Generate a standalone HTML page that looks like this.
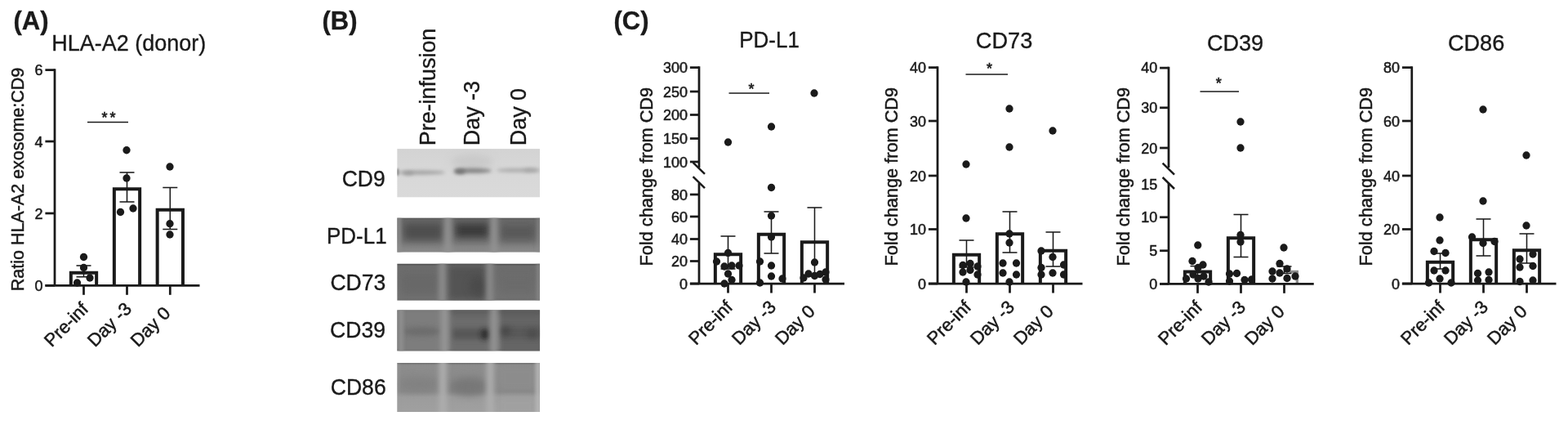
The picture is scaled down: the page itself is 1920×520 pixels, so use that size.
<!DOCTYPE html>
<html lang="en"><head><meta charset="utf-8"><title>Figure</title>
<style>html,body{margin:0;padding:0;background:#fff;}body{width:1920px;height:520px;overflow:hidden;}svg{display:block;}text{font-family:"Liberation Sans",Arial,Helvetica,sans-serif;fill:#1a1a1a;stroke:#1a1a1a;stroke-width:0.35px;}</style>
</head><body>
<svg width="1920" height="520" viewBox="0 0 1920 520">
<rect width="1920" height="520" fill="#fff"/>
<text transform="translate(16.5 35.9) scale(1 1.03)" font-size="31" font-weight="bold">(A)</text>
<text transform="translate(394.5 35.9) scale(1 1.03)" font-size="31" font-weight="bold">(B)</text>
<text transform="translate(751.5 35.9) scale(1 1.03)" font-size="31" font-weight="bold">(C)</text>
<defs>
<filter id="bl2" filterUnits="userSpaceOnUse" x="440" y="150" width="260" height="380"><feGaussianBlur stdDeviation="2"/></filter>
<filter id="bl3" filterUnits="userSpaceOnUse" x="440" y="150" width="260" height="380"><feGaussianBlur stdDeviation="3.2"/></filter>
<filter id="bl5" filterUnits="userSpaceOnUse" x="440" y="150" width="260" height="380"><feGaussianBlur stdDeviation="5"/></filter>
<filter id="bl1" filterUnits="userSpaceOnUse" x="440" y="150" width="260" height="380"><feGaussianBlur stdDeviation="1.2"/></filter>
<linearGradient id="gCD9" x1="0" y1="0" x2="0" y2="1"><stop offset="0" stop-color="#d3d3d3"/><stop offset="0.3" stop-color="#d6d6d6"/><stop offset="0.55" stop-color="#d8d8d8"/><stop offset="1" stop-color="#dadada"/></linearGradient>
<linearGradient id="gPDL1" x1="0" y1="0" x2="0" y2="1"><stop offset="0" stop-color="#545454"/><stop offset="0.06" stop-color="#6a6a6a"/><stop offset="0.68" stop-color="#767676"/><stop offset="0.85" stop-color="#848484"/><stop offset="1" stop-color="#888888"/></linearGradient>
<linearGradient id="gCD73" x1="0" y1="0" x2="0" y2="1"><stop offset="0" stop-color="#444444"/><stop offset="0.06" stop-color="#6c6c6c"/><stop offset="0.5" stop-color="#6e6e6e"/><stop offset="0.92" stop-color="#727272"/><stop offset="1" stop-color="#6a6a6a"/></linearGradient>
<linearGradient id="gCD39" x1="0" y1="0" x2="0" y2="1"><stop offset="0" stop-color="#686868"/><stop offset="0.1" stop-color="#7a7a7a"/><stop offset="0.5" stop-color="#787878"/><stop offset="0.93" stop-color="#7a7a7a"/><stop offset="1" stop-color="#585858"/></linearGradient>
<linearGradient id="gCD86" x1="0" y1="0" x2="0" y2="1"><stop offset="0" stop-color="#6c6c6c"/><stop offset="0.05" stop-color="#8c8c8c"/><stop offset="0.58" stop-color="#898989"/><stop offset="0.7" stop-color="#9c9c9c"/><stop offset="1" stop-color="#a0a0a0"/></linearGradient>
<clipPath id="cp0"><rect x="486.2" y="182.1" width="174.9" height="59.5"/></clipPath>
<clipPath id="cp1"><rect x="486.2" y="266.4" width="174.9" height="42.3"/></clipPath>
<clipPath id="cp2"><rect x="486.2" y="322.5" width="174.9" height="45.3"/></clipPath>
<clipPath id="cp3"><rect x="486.2" y="379.3" width="174.9" height="50.1"/></clipPath>
<clipPath id="cp4"><rect x="486.2" y="443.9" width="174.9" height="60.1"/></clipPath>
</defs>
<g clip-path="url(#cp0)">
<rect x="486.2" y="182.1" width="174.9" height="59.5" fill="url(#gCD9)"/>
<ellipse cx="578" cy="198" rx="26" ry="9" fill="#c6c6c6" opacity="0.8" filter="url(#bl5)"/>
<ellipse cx="516" cy="211.0" rx="29" ry="2.4" fill="#a2a2a2" opacity="1" filter="url(#bl2)"/>
<ellipse cx="487" cy="210.6" rx="1.6" ry="4.5" fill="#808080" opacity="0.9" filter="url(#bl1)"/>
<ellipse cx="500" cy="211.8" rx="7" ry="2.6" fill="#989898" opacity="0.8" filter="url(#bl2)"/>
<ellipse cx="579" cy="208.8" rx="23" ry="3.0" fill="#848484" opacity="1" filter="url(#bl2)"/>
<ellipse cx="563" cy="209.8" rx="7" ry="3.4" fill="#707070" opacity="0.9" filter="url(#bl2)"/>
<ellipse cx="635" cy="208.4" rx="27" ry="2.2" fill="#a8a8a8" opacity="1" filter="url(#bl2)"/>
<ellipse cx="650" cy="208.2" rx="9" ry="2.4" fill="#a0a0a0" opacity="0.7" filter="url(#bl2)"/>
</g>
<g clip-path="url(#cp1)">
<rect x="486.2" y="266.4" width="174.9" height="42.3" fill="url(#gPDL1)"/>
<rect x="494" y="273" width="48" height="21" fill="#4c4c4c" opacity="0.95" filter="url(#bl5)"/>
<rect x="557" y="273" width="42" height="18" fill="#383838" opacity="0.95" filter="url(#bl5)"/>
<rect x="612" y="274" width="44" height="20" fill="#585858" opacity="0.95" filter="url(#bl5)"/>
<rect x="486.0" y="258.4" width="5" height="58.30000000000001" fill="#8c8c8c" opacity="0.9" filter="url(#bl2)"/>
<rect x="544.25" y="258.4" width="8.5" height="58.30000000000001" fill="#929292" opacity="1" filter="url(#bl3)"/>
<rect x="600.75" y="258.4" width="8.5" height="58.30000000000001" fill="#929292" opacity="1" filter="url(#bl3)"/>
<rect x="657.8" y="258.4" width="4" height="58.30000000000001" fill="#8c8c8c" opacity="0.8" filter="url(#bl2)"/>
</g>
<g clip-path="url(#cp2)">
<rect x="486.2" y="322.5" width="174.9" height="45.3" fill="url(#gCD73)"/>
<rect x="548" y="324" width="49" height="44" fill="#525252" opacity="0.95" filter="url(#bl5)"/>
<ellipse cx="585" cy="350" rx="10" ry="12" fill="#444444" opacity="0.6" filter="url(#bl5)"/>
<rect x="492" y="335" width="46" height="27" fill="#666666" opacity="0.7" filter="url(#bl5)"/>
<rect x="612" y="338" width="42" height="22" fill="#6a6a6a" opacity="0.6" filter="url(#bl5)"/>
<rect x="537.5" y="314.5" width="8" height="61.30000000000001" fill="#8e8e8e" opacity="1" filter="url(#bl3)"/>
<rect x="595.8" y="314.5" width="8" height="61.30000000000001" fill="#8c8c8c" opacity="1" filter="url(#bl3)"/>
<rect x="657.6" y="314.5" width="4" height="61.30000000000001" fill="#929292" opacity="0.8" filter="url(#bl2)"/>
</g>
<g clip-path="url(#cp3)">
<rect x="486.2" y="379.3" width="174.9" height="50.1" fill="url(#gCD39)"/>
<rect x="486" y="374.3" width="57" height="60.099999999999966" fill="#7e7e7e" opacity="0.85" filter="url(#bl3)"/>
<rect x="550" y="374.3" width="52" height="60.099999999999966" fill="#6a6a6a" opacity="0.85" filter="url(#bl3)"/>
<rect x="611" y="374.3" width="54" height="60.099999999999966" fill="#646464" opacity="0.9" filter="url(#bl3)"/>
<rect x="552" y="375.3" width="110" height="10.0" fill="#505050" opacity="0.45" filter="url(#bl3)"/>
<ellipse cx="517" cy="405.5" rx="24" ry="5.5" fill="#6a6a6a" opacity="0.9" filter="url(#bl3)"/>
<rect x="554" y="402" width="46" height="13" fill="#525252" opacity="0.85" filter="url(#bl3)"/>
<ellipse cx="593.8" cy="409.0" rx="5" ry="6.5" fill="#222222" opacity="0.85" filter="url(#bl3)"/>
<rect x="613" y="400" width="49" height="14" fill="#545454" opacity="0.75" filter="url(#bl3)"/>
<ellipse cx="619" cy="405" rx="7" ry="6" fill="#444444" opacity="0.7" filter="url(#bl3)"/>
<ellipse cx="652" cy="408.5" rx="7" ry="6" fill="#484848" opacity="0.7" filter="url(#bl3)"/>
<rect x="488.5" y="371.3" width="5" height="66.09999999999997" fill="#949494" opacity="0.9" filter="url(#bl2)"/>
<rect x="539.75" y="371.3" width="9.5" height="66.09999999999997" fill="#969696" opacity="1" filter="url(#bl3)"/>
<rect x="600.25" y="371.3" width="9.5" height="66.09999999999997" fill="#929292" opacity="1" filter="url(#bl3)"/>
</g>
<g clip-path="url(#cp4)">
<rect x="486.2" y="443.9" width="174.9" height="60.1" fill="url(#gCD86)"/>
<ellipse cx="514" cy="470" rx="26" ry="9" fill="#808080" opacity="0.8" filter="url(#bl5)"/>
<ellipse cx="574" cy="473" rx="24" ry="11" fill="#767676" opacity="0.9" filter="url(#bl5)"/>
<rect x="611" y="447.9" width="45" height="28.100000000000023" fill="#8e8e8e" opacity="0.7" filter="url(#bl3)"/>
<rect x="611" y="486" width="45" height="22.0" fill="#a2a2a2" opacity="0.7" filter="url(#bl3)"/>
<rect x="537.8" y="435.9" width="9" height="76.10000000000002" fill="#aeaeae" opacity="1" filter="url(#bl3)"/>
<rect x="595.8" y="435.9" width="9" height="76.10000000000002" fill="#aeaeae" opacity="1" filter="url(#bl3)"/>
<rect x="655.8" y="435.9" width="6" height="76.10000000000002" fill="#b8b8b8" opacity="0.95" filter="url(#bl2)"/>
<rect x="485.95" y="435.9" width="2.5" height="76.10000000000002" fill="#a0a0a0" opacity="0.6" filter="url(#bl2)"/>
</g>
<text transform="translate(471.7 228) scale(1 1.05)" font-size="26.5" text-anchor="end">CD9</text>
<text transform="translate(473.6 298) scale(1 1.05)" font-size="26.0" text-anchor="end">PD-L1</text>
<text transform="translate(472.4 355) scale(1 1.05)" font-size="26.6" text-anchor="end">CD73</text>
<text transform="translate(472.0 412.5) scale(1 1.05)" font-size="26.6" text-anchor="end">CD39</text>
<text transform="translate(472.7 482.5) scale(1 1.05)" font-size="26.6" text-anchor="end">CD86</text>
<text transform="translate(532.7 178.2) rotate(-90) scale(1 1.05)" font-size="26.9">Pre-infusion</text>
<text transform="translate(586.7 178.2) rotate(-90) scale(1 1.05)" font-size="26.9">Day -3</text>
<text transform="translate(644.2 178.2) rotate(-90) scale(1 1.05)" font-size="26.9">Day 0</text>
<g>
<path d="M86.85 349.3V333.7H118.15V349.3" fill="#fff" stroke="#1a1a1a" stroke-width="4.0"/>
<path d="M139.85 349.3V231.2H171.15V349.3" fill="#fff" stroke="#1a1a1a" stroke-width="4.0"/>
<path d="M192.65 349.3V256.7H223.95V349.3" fill="#fff" stroke="#1a1a1a" stroke-width="4.0"/>
<line x1="67" y1="84.225" x2="67" y2="349.3" stroke="#1a1a1a" stroke-width="2.75" stroke-linecap="butt"/>
<line x1="55.4" y1="349.3" x2="244.5" y2="349.3" stroke="#1a1a1a" stroke-width="2.75" stroke-linecap="butt"/>
<line x1="55.4" y1="85.6" x2="67" y2="85.6" stroke="#1a1a1a" stroke-width="2.75" stroke-linecap="butt"/>
<text transform="translate(52.6 91.6) scale(1 1.05)" font-size="18.0" text-anchor="end" style="stroke-width:0.5px">6</text>
<line x1="55.4" y1="173" x2="67" y2="173" stroke="#1a1a1a" stroke-width="2.75" stroke-linecap="butt"/>
<text transform="translate(52.6 179.6) scale(1 1.05)" font-size="18.0" text-anchor="end" style="stroke-width:0.5px">4</text>
<line x1="55.4" y1="261" x2="67" y2="261" stroke="#1a1a1a" stroke-width="2.75" stroke-linecap="butt"/>
<text transform="translate(52.6 267.6) scale(1 1.05)" font-size="18.0" text-anchor="end" style="stroke-width:0.5px">2</text>
<line x1="55.4" y1="349.3" x2="67" y2="349.3" stroke="#1a1a1a" stroke-width="2.75" stroke-linecap="butt"/>
<text transform="translate(52.6 355.90000000000003) scale(1 1.05)" font-size="18.0" text-anchor="end" style="stroke-width:0.5px">0</text>
<line x1="102.5" y1="349.3" x2="102.5" y2="360.8" stroke="#1a1a1a" stroke-width="2.75" stroke-linecap="butt"/>
<line x1="155.5" y1="349.3" x2="155.5" y2="360.8" stroke="#1a1a1a" stroke-width="2.75" stroke-linecap="butt"/>
<line x1="208.3" y1="349.3" x2="208.3" y2="360.8" stroke="#1a1a1a" stroke-width="2.75" stroke-linecap="butt"/>
<line x1="102.5" y1="325" x2="102.5" y2="338.75" stroke="#1a1a1a" stroke-width="1.55" stroke-linecap="butt"/>
<line x1="93.5" y1="325" x2="111.5" y2="325" stroke="#1a1a1a" stroke-width="1.55" stroke-linecap="butt"/>
<line x1="93.5" y1="338.75" x2="111.5" y2="338.75" stroke="#1a1a1a" stroke-width="1.55" stroke-linecap="butt"/>
<line x1="155.5" y1="211" x2="155.5" y2="247" stroke="#1a1a1a" stroke-width="1.55" stroke-linecap="butt"/>
<line x1="146.5" y1="211" x2="164.5" y2="211" stroke="#1a1a1a" stroke-width="1.55" stroke-linecap="butt"/>
<line x1="146.5" y1="247" x2="164.5" y2="247" stroke="#1a1a1a" stroke-width="1.55" stroke-linecap="butt"/>
<line x1="208.3" y1="229.5" x2="208.3" y2="280.5" stroke="#1a1a1a" stroke-width="1.55" stroke-linecap="butt"/>
<line x1="199.3" y1="229.5" x2="217.3" y2="229.5" stroke="#1a1a1a" stroke-width="1.55" stroke-linecap="butt"/>
<line x1="199.3" y1="280.5" x2="217.3" y2="280.5" stroke="#1a1a1a" stroke-width="1.55" stroke-linecap="butt"/>
<circle cx="102.5" cy="314.5" r="4.65" fill="#1a1a1a"/>
<circle cx="102.5" cy="327.5" r="4.65" fill="#1a1a1a"/>
<circle cx="110" cy="340" r="4.65" fill="#1a1a1a"/>
<circle cx="94.5" cy="346" r="4.65" fill="#1a1a1a"/>
<circle cx="155" cy="183.75" r="4.65" fill="#1a1a1a"/>
<circle cx="155" cy="218" r="4.65" fill="#1a1a1a"/>
<circle cx="147.5" cy="259.5" r="4.65" fill="#1a1a1a"/>
<circle cx="163" cy="255" r="4.65" fill="#1a1a1a"/>
<circle cx="208" cy="204" r="4.65" fill="#1a1a1a"/>
<circle cx="208" cy="273.75" r="4.65" fill="#1a1a1a"/>
<circle cx="208" cy="287" r="4.65" fill="#1a1a1a"/>
<line x1="107" y1="149.5" x2="157" y2="149.5" stroke="#1a1a1a" stroke-width="1.5" stroke-linecap="butt"/>
<text transform="translate(134.6 150.0)" font-size="18" text-anchor="middle" letter-spacing="3.2" style="stroke-width:0.6px">**</text>
<text transform="translate(63.2 425.6) rotate(-45)" font-size="22.2" style="stroke-width:0.5px">Pre-inf</text>
<text transform="translate(116.2 425.6) rotate(-45)" font-size="22.2" style="stroke-width:0.5px">Day -3</text>
<text transform="translate(169.0 425.6) rotate(-45)" font-size="22.2" style="stroke-width:0.5px">Day 0</text>
<text transform="translate(63.2 62) scale(1 1.05)" font-size="27.0">HLA-A2 (donor)</text>
<text transform="translate(29.2 219.5) rotate(-90) scale(1 1.04)" font-size="21.5" text-anchor="middle" style="stroke-width:0.5px">Ratio HLA-A2 exosome:CD9</text>
</g>
<g>
<path d="M875.85 347V311.2H907.15V347" fill="#fff" stroke="#1a1a1a" stroke-width="4.0"/>
<path d="M928.85 347V286.7H960.15V347" fill="#fff" stroke="#1a1a1a" stroke-width="4.0"/>
<path d="M981.85 347V296.2H1013.15V347" fill="#fff" stroke="#1a1a1a" stroke-width="4.0"/>
<line x1="856" y1="81.225" x2="856" y2="205" stroke="#1a1a1a" stroke-width="2.75" stroke-linecap="butt"/>
<line x1="856" y1="224" x2="856" y2="347" stroke="#1a1a1a" stroke-width="2.75" stroke-linecap="butt"/>
<line x1="848.6" y1="198.8" x2="863" y2="212.8" stroke="#1a1a1a" stroke-width="2.5" stroke-linecap="butt"/>
<line x1="848.6" y1="216.1" x2="863" y2="230.1" stroke="#1a1a1a" stroke-width="2.5" stroke-linecap="butt"/>
<line x1="844.9" y1="347" x2="1034" y2="347" stroke="#1a1a1a" stroke-width="2.75" stroke-linecap="butt"/>
<line x1="844.9" y1="82.6" x2="856" y2="82.6" stroke="#1a1a1a" stroke-width="2.75" stroke-linecap="butt"/>
<text transform="translate(842.1 88.6) scale(1 1.05)" font-size="18.0" text-anchor="end" style="stroke-width:0.5px">300</text>
<line x1="844.9" y1="112" x2="856" y2="112" stroke="#1a1a1a" stroke-width="2.75" stroke-linecap="butt"/>
<text transform="translate(842.1 118.6) scale(1 1.05)" font-size="18.0" text-anchor="end" style="stroke-width:0.5px">250</text>
<line x1="844.9" y1="140.5" x2="856" y2="140.5" stroke="#1a1a1a" stroke-width="2.75" stroke-linecap="butt"/>
<text transform="translate(842.1 147.1) scale(1 1.05)" font-size="18.0" text-anchor="end" style="stroke-width:0.5px">200</text>
<line x1="844.9" y1="169.5" x2="856" y2="169.5" stroke="#1a1a1a" stroke-width="2.75" stroke-linecap="butt"/>
<text transform="translate(842.1 176.1) scale(1 1.05)" font-size="18.0" text-anchor="end" style="stroke-width:0.5px">150</text>
<line x1="844.9" y1="198" x2="856" y2="198" stroke="#1a1a1a" stroke-width="2.75" stroke-linecap="butt"/>
<text transform="translate(842.1 204.6) scale(1 1.05)" font-size="18.0" text-anchor="end" style="stroke-width:0.5px">100</text>
<line x1="844.9" y1="238" x2="856" y2="238" stroke="#1a1a1a" stroke-width="2.75" stroke-linecap="butt"/>
<text transform="translate(842.1 244.6) scale(1 1.05)" font-size="18.0" text-anchor="end" style="stroke-width:0.5px">80</text>
<line x1="844.9" y1="265" x2="856" y2="265" stroke="#1a1a1a" stroke-width="2.75" stroke-linecap="butt"/>
<text transform="translate(842.1 271.6) scale(1 1.05)" font-size="18.0" text-anchor="end" style="stroke-width:0.5px">60</text>
<line x1="844.9" y1="292.5" x2="856" y2="292.5" stroke="#1a1a1a" stroke-width="2.75" stroke-linecap="butt"/>
<text transform="translate(842.1 299.1) scale(1 1.05)" font-size="18.0" text-anchor="end" style="stroke-width:0.5px">40</text>
<line x1="844.9" y1="319.5" x2="856" y2="319.5" stroke="#1a1a1a" stroke-width="2.75" stroke-linecap="butt"/>
<text transform="translate(842.1 326.1) scale(1 1.05)" font-size="18.0" text-anchor="end" style="stroke-width:0.5px">20</text>
<line x1="844.9" y1="347" x2="856" y2="347" stroke="#1a1a1a" stroke-width="2.75" stroke-linecap="butt"/>
<text transform="translate(842.1 353.6) scale(1 1.05)" font-size="18.0" text-anchor="end" style="stroke-width:0.5px">0</text>
<line x1="891.5" y1="347" x2="891.5" y2="358.5" stroke="#1a1a1a" stroke-width="2.75" stroke-linecap="butt"/>
<line x1="944.5" y1="347" x2="944.5" y2="358.5" stroke="#1a1a1a" stroke-width="2.75" stroke-linecap="butt"/>
<line x1="997.5" y1="347" x2="997.5" y2="358.5" stroke="#1a1a1a" stroke-width="2.75" stroke-linecap="butt"/>
<line x1="891.5" y1="289" x2="891.5" y2="329" stroke="#1a1a1a" stroke-width="1.55" stroke-linecap="butt"/>
<line x1="882.5" y1="289" x2="900.5" y2="289" stroke="#1a1a1a" stroke-width="1.55" stroke-linecap="butt"/>
<line x1="882.5" y1="329" x2="900.5" y2="329" stroke="#1a1a1a" stroke-width="1.55" stroke-linecap="butt"/>
<line x1="944.5" y1="259" x2="944.5" y2="310" stroke="#1a1a1a" stroke-width="1.55" stroke-linecap="butt"/>
<line x1="935.5" y1="259" x2="953.5" y2="259" stroke="#1a1a1a" stroke-width="1.55" stroke-linecap="butt"/>
<line x1="935.5" y1="310" x2="953.5" y2="310" stroke="#1a1a1a" stroke-width="1.55" stroke-linecap="butt"/>
<line x1="997.5" y1="254" x2="997.5" y2="336" stroke="#1a1a1a" stroke-width="1.55" stroke-linecap="butt"/>
<line x1="988.5" y1="254" x2="1006.5" y2="254" stroke="#1a1a1a" stroke-width="1.55" stroke-linecap="butt"/>
<line x1="988.5" y1="336" x2="1006.5" y2="336" stroke="#1a1a1a" stroke-width="1.55" stroke-linecap="butt"/>
<circle cx="891.5" cy="174" r="4.65" fill="#1a1a1a"/>
<circle cx="944.5" cy="155" r="4.65" fill="#1a1a1a"/>
<circle cx="997" cy="114" r="4.65" fill="#1a1a1a"/>
<circle cx="944.5" cy="229.5" r="4.65" fill="#1a1a1a"/>
<circle cx="891.5" cy="309.5" r="4.65" fill="#1a1a1a"/>
<circle cx="877.5" cy="320" r="4.65" fill="#1a1a1a"/>
<circle cx="887" cy="326" r="4.65" fill="#1a1a1a"/>
<circle cx="896" cy="325" r="4.65" fill="#1a1a1a"/>
<circle cx="905" cy="325" r="4.65" fill="#1a1a1a"/>
<circle cx="891.5" cy="335" r="4.65" fill="#1a1a1a"/>
<circle cx="896" cy="342.5" r="4.65" fill="#1a1a1a"/>
<circle cx="887" cy="347" r="4.65" fill="#1a1a1a"/>
<circle cx="944.5" cy="264" r="4.65" fill="#1a1a1a"/>
<circle cx="944.5" cy="290" r="4.65" fill="#1a1a1a"/>
<circle cx="930.5" cy="320" r="4.65" fill="#1a1a1a"/>
<circle cx="944.5" cy="325" r="4.65" fill="#1a1a1a"/>
<circle cx="944.5" cy="338" r="4.65" fill="#1a1a1a"/>
<circle cx="958" cy="341" r="4.65" fill="#1a1a1a"/>
<circle cx="930.5" cy="346" r="4.65" fill="#1a1a1a"/>
<circle cx="997.5" cy="321" r="4.65" fill="#1a1a1a"/>
<circle cx="1011" cy="333" r="4.65" fill="#1a1a1a"/>
<circle cx="990" cy="335" r="4.65" fill="#1a1a1a"/>
<circle cx="1004" cy="335.5" r="4.65" fill="#1a1a1a"/>
<circle cx="997.5" cy="337.5" r="4.65" fill="#1a1a1a"/>
<circle cx="984" cy="340" r="4.65" fill="#1a1a1a"/>
<circle cx="1011" cy="342" r="4.65" fill="#1a1a1a"/>
<line x1="892.5" y1="114" x2="942" y2="114" stroke="#1a1a1a" stroke-width="1.5" stroke-linecap="butt"/>
<text transform="translate(921.6500000000001 114.5)" font-size="18" text-anchor="middle" letter-spacing="3.2" style="stroke-width:0.6px">*</text>
<text transform="translate(852.2 423.3) rotate(-45)" font-size="22.2" style="stroke-width:0.5px">Pre-inf</text>
<text transform="translate(905.2 423.3) rotate(-45)" font-size="22.2" style="stroke-width:0.5px">Day -3</text>
<text transform="translate(958.2 423.3) rotate(-45)" font-size="22.2" style="stroke-width:0.5px">Day 0</text>
<text transform="translate(942 58) scale(1 1.05)" font-size="26" text-anchor="middle">PD-L1</text>
<text transform="translate(798.7 216.2) rotate(-90) scale(1 1.04)" font-size="21.75" text-anchor="middle" style="stroke-width:0.5px">Fold change from CD9</text>
</g>
<g>
<path d="M1167.85 347V311.7H1199.15V347" fill="#fff" stroke="#1a1a1a" stroke-width="4.0"/>
<path d="M1220.85 347V286.2H1252.15V347" fill="#fff" stroke="#1a1a1a" stroke-width="4.0"/>
<path d="M1273.85 347V306.7H1305.15V347" fill="#fff" stroke="#1a1a1a" stroke-width="4.0"/>
<line x1="1148" y1="81.225" x2="1148" y2="347" stroke="#1a1a1a" stroke-width="2.75" stroke-linecap="butt"/>
<line x1="1136.9" y1="347" x2="1325.5" y2="347" stroke="#1a1a1a" stroke-width="2.75" stroke-linecap="butt"/>
<line x1="1136.9" y1="82.6" x2="1148" y2="82.6" stroke="#1a1a1a" stroke-width="2.75" stroke-linecap="butt"/>
<text transform="translate(1134.1 88.6) scale(1 1.05)" font-size="18.0" text-anchor="end" style="stroke-width:0.5px">40</text>
<line x1="1136.9" y1="148" x2="1148" y2="148" stroke="#1a1a1a" stroke-width="2.75" stroke-linecap="butt"/>
<text transform="translate(1134.1 154.6) scale(1 1.05)" font-size="18.0" text-anchor="end" style="stroke-width:0.5px">30</text>
<line x1="1136.9" y1="215" x2="1148" y2="215" stroke="#1a1a1a" stroke-width="2.75" stroke-linecap="butt"/>
<text transform="translate(1134.1 221.6) scale(1 1.05)" font-size="18.0" text-anchor="end" style="stroke-width:0.5px">20</text>
<line x1="1136.9" y1="280.5" x2="1148" y2="280.5" stroke="#1a1a1a" stroke-width="2.75" stroke-linecap="butt"/>
<text transform="translate(1134.1 287.1) scale(1 1.05)" font-size="18.0" text-anchor="end" style="stroke-width:0.5px">10</text>
<line x1="1136.9" y1="347" x2="1148" y2="347" stroke="#1a1a1a" stroke-width="2.75" stroke-linecap="butt"/>
<text transform="translate(1134.1 353.6) scale(1 1.05)" font-size="18.0" text-anchor="end" style="stroke-width:0.5px">0</text>
<line x1="1183.5" y1="347" x2="1183.5" y2="358.5" stroke="#1a1a1a" stroke-width="2.75" stroke-linecap="butt"/>
<line x1="1236.5" y1="347" x2="1236.5" y2="358.5" stroke="#1a1a1a" stroke-width="2.75" stroke-linecap="butt"/>
<line x1="1289.5" y1="347" x2="1289.5" y2="358.5" stroke="#1a1a1a" stroke-width="2.75" stroke-linecap="butt"/>
<line x1="1183.5" y1="294" x2="1183.5" y2="327" stroke="#1a1a1a" stroke-width="1.55" stroke-linecap="butt"/>
<line x1="1174.5" y1="294" x2="1192.5" y2="294" stroke="#1a1a1a" stroke-width="1.55" stroke-linecap="butt"/>
<line x1="1174.5" y1="327" x2="1192.5" y2="327" stroke="#1a1a1a" stroke-width="1.55" stroke-linecap="butt"/>
<line x1="1236.5" y1="259" x2="1236.5" y2="309" stroke="#1a1a1a" stroke-width="1.55" stroke-linecap="butt"/>
<line x1="1227.5" y1="259" x2="1245.5" y2="259" stroke="#1a1a1a" stroke-width="1.55" stroke-linecap="butt"/>
<line x1="1227.5" y1="309" x2="1245.5" y2="309" stroke="#1a1a1a" stroke-width="1.55" stroke-linecap="butt"/>
<line x1="1289.5" y1="284" x2="1289.5" y2="326" stroke="#1a1a1a" stroke-width="1.55" stroke-linecap="butt"/>
<line x1="1280.5" y1="284" x2="1298.5" y2="284" stroke="#1a1a1a" stroke-width="1.55" stroke-linecap="butt"/>
<line x1="1280.5" y1="326" x2="1298.5" y2="326" stroke="#1a1a1a" stroke-width="1.55" stroke-linecap="butt"/>
<circle cx="1183" cy="201" r="4.65" fill="#1a1a1a"/>
<circle cx="1183" cy="267" r="4.65" fill="#1a1a1a"/>
<circle cx="1179" cy="324.5" r="4.65" fill="#1a1a1a"/>
<circle cx="1188" cy="322.5" r="4.65" fill="#1a1a1a"/>
<circle cx="1197" cy="326" r="4.65" fill="#1a1a1a"/>
<circle cx="1188" cy="330.5" r="4.65" fill="#1a1a1a"/>
<circle cx="1179" cy="333" r="4.65" fill="#1a1a1a"/>
<circle cx="1197" cy="336" r="4.65" fill="#1a1a1a"/>
<circle cx="1183" cy="345" r="4.65" fill="#1a1a1a"/>
<circle cx="1236" cy="133" r="4.65" fill="#1a1a1a"/>
<circle cx="1236" cy="180" r="4.65" fill="#1a1a1a"/>
<circle cx="1236" cy="286" r="4.65" fill="#1a1a1a"/>
<circle cx="1236" cy="297" r="4.65" fill="#1a1a1a"/>
<circle cx="1228" cy="322" r="4.65" fill="#1a1a1a"/>
<circle cx="1244.5" cy="322" r="4.65" fill="#1a1a1a"/>
<circle cx="1228" cy="334" r="4.65" fill="#1a1a1a"/>
<circle cx="1244.5" cy="336" r="4.65" fill="#1a1a1a"/>
<circle cx="1236" cy="345" r="4.65" fill="#1a1a1a"/>
<circle cx="1289" cy="160" r="4.65" fill="#1a1a1a"/>
<circle cx="1275" cy="307" r="4.65" fill="#1a1a1a"/>
<circle cx="1289" cy="314.5" r="4.65" fill="#1a1a1a"/>
<circle cx="1302.5" cy="324" r="4.65" fill="#1a1a1a"/>
<circle cx="1275" cy="327.5" r="4.65" fill="#1a1a1a"/>
<circle cx="1289" cy="334" r="4.65" fill="#1a1a1a"/>
<circle cx="1275" cy="336" r="4.65" fill="#1a1a1a"/>
<circle cx="1302.5" cy="336" r="4.65" fill="#1a1a1a"/>
<line x1="1182.5" y1="91" x2="1234" y2="91" stroke="#1a1a1a" stroke-width="1.5" stroke-linecap="butt"/>
<text transform="translate(1213.2 89.75)" font-size="18" text-anchor="middle" letter-spacing="3.2" style="stroke-width:0.6px">*</text>
<text transform="translate(1144.2 423.3) rotate(-45)" font-size="22.2" style="stroke-width:0.5px">Pre-inf</text>
<text transform="translate(1197.2 423.3) rotate(-45)" font-size="22.2" style="stroke-width:0.5px">Day -3</text>
<text transform="translate(1250.2 423.3) rotate(-45)" font-size="22.2" style="stroke-width:0.5px">Day 0</text>
<text transform="translate(1229.6 59.0) scale(1 1.05)" font-size="27.2" text-anchor="middle">CD73</text>
<text transform="translate(1099.2 216.2) rotate(-90) scale(1 1.04)" font-size="21.75" text-anchor="middle" style="stroke-width:0.5px">Fold change from CD9</text>
</g>
<g>
<path d="M1450.85 347.3V332.45H1482.15V347.3" fill="#fff" stroke="#1a1a1a" stroke-width="4.0"/>
<path d="M1503.85 347.3V291.2H1535.15V347.3" fill="#fff" stroke="#1a1a1a" stroke-width="4.0"/>
<path d="M1579.0 332.5H1588.3V347.3" fill="none" stroke="#8c8c8c" stroke-width="3.4"/>
<line x1="1431" y1="81.725" x2="1431" y2="205" stroke="#1a1a1a" stroke-width="2.75" stroke-linecap="butt"/>
<line x1="1431" y1="224" x2="1431" y2="347.3" stroke="#1a1a1a" stroke-width="2.75" stroke-linecap="butt"/>
<line x1="1423.6" y1="199.7" x2="1438" y2="213.7" stroke="#1a1a1a" stroke-width="2.5" stroke-linecap="butt"/>
<line x1="1423.6" y1="217" x2="1438" y2="231" stroke="#1a1a1a" stroke-width="2.5" stroke-linecap="butt"/>
<line x1="1420.1000000000001" y1="347.3" x2="1608.75" y2="347.3" stroke="#1a1a1a" stroke-width="2.75" stroke-linecap="butt"/>
<line x1="1420.1000000000001" y1="83.1" x2="1431" y2="83.1" stroke="#1a1a1a" stroke-width="2.75" stroke-linecap="butt"/>
<text transform="translate(1417.3 89.1) scale(1 1.05)" font-size="18.0" text-anchor="end" style="stroke-width:0.5px">40</text>
<line x1="1420.1000000000001" y1="131.8" x2="1431" y2="131.8" stroke="#1a1a1a" stroke-width="2.75" stroke-linecap="butt"/>
<text transform="translate(1417.3 138.4) scale(1 1.05)" font-size="18.0" text-anchor="end" style="stroke-width:0.5px">30</text>
<line x1="1420.1000000000001" y1="181" x2="1431" y2="181" stroke="#1a1a1a" stroke-width="2.75" stroke-linecap="butt"/>
<text transform="translate(1417.3 187.6) scale(1 1.05)" font-size="18.0" text-anchor="end" style="stroke-width:0.5px">20</text>
<text transform="translate(1417.3 231.6) scale(1 1.05)" font-size="18.0" text-anchor="end" style="stroke-width:0.5px">15</text>
<line x1="1420.1000000000001" y1="265.75" x2="1431" y2="265.75" stroke="#1a1a1a" stroke-width="2.75" stroke-linecap="butt"/>
<text transform="translate(1417.3 272.35) scale(1 1.05)" font-size="18.0" text-anchor="end" style="stroke-width:0.5px">10</text>
<line x1="1420.1000000000001" y1="306.75" x2="1431" y2="306.75" stroke="#1a1a1a" stroke-width="2.75" stroke-linecap="butt"/>
<text transform="translate(1417.3 313.35) scale(1 1.05)" font-size="18.0" text-anchor="end" style="stroke-width:0.5px">5</text>
<line x1="1420.1000000000001" y1="347.3" x2="1431" y2="347.3" stroke="#1a1a1a" stroke-width="2.75" stroke-linecap="butt"/>
<text transform="translate(1417.3 353.90000000000003) scale(1 1.05)" font-size="18.0" text-anchor="end" style="stroke-width:0.5px">0</text>
<line x1="1466.5" y1="347.3" x2="1466.5" y2="358.8" stroke="#1a1a1a" stroke-width="2.75" stroke-linecap="butt"/>
<line x1="1519.5" y1="347.3" x2="1519.5" y2="358.8" stroke="#1a1a1a" stroke-width="2.75" stroke-linecap="butt"/>
<line x1="1572.5" y1="347.3" x2="1572.5" y2="358.8" stroke="#1a1a1a" stroke-width="2.75" stroke-linecap="butt"/>
<line x1="1466.5" y1="325.6" x2="1466.5" y2="337" stroke="#1a1a1a" stroke-width="1.55" stroke-linecap="butt"/>
<line x1="1457.5" y1="325.6" x2="1475.5" y2="325.6" stroke="#1a1a1a" stroke-width="1.55" stroke-linecap="butt"/>
<line x1="1457.5" y1="337" x2="1475.5" y2="337" stroke="#1a1a1a" stroke-width="1.55" stroke-linecap="butt"/>
<line x1="1519.5" y1="262.5" x2="1519.5" y2="314.5" stroke="#1a1a1a" stroke-width="1.55" stroke-linecap="butt"/>
<line x1="1510.5" y1="262.5" x2="1528.5" y2="262.5" stroke="#1a1a1a" stroke-width="1.55" stroke-linecap="butt"/>
<line x1="1510.5" y1="314.5" x2="1528.5" y2="314.5" stroke="#1a1a1a" stroke-width="1.55" stroke-linecap="butt"/>
<line x1="1572.5" y1="326.0" x2="1572.5" y2="334.5" stroke="#1a1a1a" stroke-width="1.55" stroke-linecap="butt"/>
<line x1="1563.5" y1="326.0" x2="1581.5" y2="326.0" stroke="#1a1a1a" stroke-width="1.55" stroke-linecap="butt"/>
<line x1="1563.5" y1="334.5" x2="1581.5" y2="334.5" stroke="#1a1a1a" stroke-width="1.55" stroke-linecap="butt"/>
<circle cx="1466.75" cy="300" r="4.65" fill="#1a1a1a"/>
<circle cx="1460" cy="319.5" r="4.65" fill="#1a1a1a"/>
<circle cx="1473" cy="324" r="4.65" fill="#1a1a1a"/>
<circle cx="1467" cy="327.5" r="4.65" fill="#1a1a1a"/>
<circle cx="1461" cy="336" r="4.65" fill="#1a1a1a"/>
<circle cx="1474" cy="338" r="4.65" fill="#1a1a1a"/>
<circle cx="1452.5" cy="341" r="4.65" fill="#1a1a1a"/>
<circle cx="1467" cy="341" r="4.65" fill="#1a1a1a"/>
<circle cx="1480" cy="345" r="4.65" fill="#1a1a1a"/>
<circle cx="1519" cy="149" r="4.65" fill="#1a1a1a"/>
<circle cx="1519" cy="181" r="4.65" fill="#1a1a1a"/>
<circle cx="1519" cy="287.5" r="4.65" fill="#1a1a1a"/>
<circle cx="1519" cy="296" r="4.65" fill="#1a1a1a"/>
<circle cx="1505.5" cy="335" r="4.65" fill="#1a1a1a"/>
<circle cx="1514.5" cy="334.5" r="4.65" fill="#1a1a1a"/>
<circle cx="1505.5" cy="344" r="4.65" fill="#1a1a1a"/>
<circle cx="1524" cy="342.5" r="4.65" fill="#1a1a1a"/>
<circle cx="1532.5" cy="342" r="4.65" fill="#1a1a1a"/>
<circle cx="1572" cy="303" r="4.65" fill="#1a1a1a"/>
<circle cx="1567" cy="322.5" r="4.65" fill="#1a1a1a"/>
<circle cx="1576" cy="329" r="4.65" fill="#1a1a1a"/>
<circle cx="1558" cy="332" r="4.65" fill="#1a1a1a"/>
<circle cx="1567" cy="334" r="4.65" fill="#1a1a1a"/>
<circle cx="1586" cy="338" r="4.65" fill="#1a1a1a"/>
<circle cx="1558" cy="341" r="4.65" fill="#1a1a1a"/>
<circle cx="1576" cy="340.5" r="4.65" fill="#1a1a1a"/>
<line x1="1469.5" y1="112" x2="1517" y2="112" stroke="#1a1a1a" stroke-width="1.5" stroke-linecap="butt"/>
<text transform="translate(1493.75 107.5)" font-size="18" text-anchor="middle" letter-spacing="3.2" style="stroke-width:0.6px">*</text>
<text transform="translate(1427.2 423.6) rotate(-45)" font-size="22.2" style="stroke-width:0.5px">Pre-inf</text>
<text transform="translate(1480.2 423.6) rotate(-45)" font-size="22.2" style="stroke-width:0.5px">Day -3</text>
<text transform="translate(1533.2 423.6) rotate(-45)" font-size="22.2" style="stroke-width:0.5px">Day 0</text>
<text transform="translate(1512.5 62.0) scale(1 1.05)" font-size="27.1" text-anchor="middle">CD39</text>
<text transform="translate(1383.2 216.2) rotate(-90) scale(1 1.04)" font-size="21.75" text-anchor="middle" style="stroke-width:0.5px">Fold change from CD9</text>
</g>
<g>
<path d="M1747.85 347V320.7H1779.15V347" fill="#fff" stroke="#1a1a1a" stroke-width="4.0"/>
<path d="M1800.85 347V293.2H1832.15V347" fill="#fff" stroke="#1a1a1a" stroke-width="4.0"/>
<path d="M1853.85 347V306.2H1885.15V347" fill="#fff" stroke="#1a1a1a" stroke-width="4.0"/>
<line x1="1728.75" y1="81.225" x2="1728.75" y2="347" stroke="#1a1a1a" stroke-width="2.75" stroke-linecap="butt"/>
<line x1="1716.9" y1="347" x2="1905.5" y2="347" stroke="#1a1a1a" stroke-width="2.75" stroke-linecap="butt"/>
<line x1="1716.9" y1="82.6" x2="1728.75" y2="82.6" stroke="#1a1a1a" stroke-width="2.75" stroke-linecap="butt"/>
<text transform="translate(1714.1 88.6) scale(1 1.05)" font-size="18.0" text-anchor="end" style="stroke-width:0.5px">80</text>
<line x1="1716.9" y1="148" x2="1728.75" y2="148" stroke="#1a1a1a" stroke-width="2.75" stroke-linecap="butt"/>
<text transform="translate(1714.1 154.6) scale(1 1.05)" font-size="18.0" text-anchor="end" style="stroke-width:0.5px">60</text>
<line x1="1716.9" y1="215" x2="1728.75" y2="215" stroke="#1a1a1a" stroke-width="2.75" stroke-linecap="butt"/>
<text transform="translate(1714.1 221.6) scale(1 1.05)" font-size="18.0" text-anchor="end" style="stroke-width:0.5px">40</text>
<line x1="1716.9" y1="280.5" x2="1728.75" y2="280.5" stroke="#1a1a1a" stroke-width="2.75" stroke-linecap="butt"/>
<text transform="translate(1714.1 287.1) scale(1 1.05)" font-size="18.0" text-anchor="end" style="stroke-width:0.5px">20</text>
<line x1="1716.9" y1="347" x2="1728.75" y2="347" stroke="#1a1a1a" stroke-width="2.75" stroke-linecap="butt"/>
<text transform="translate(1714.1 353.6) scale(1 1.05)" font-size="18.0" text-anchor="end" style="stroke-width:0.5px">0</text>
<line x1="1763.5" y1="347" x2="1763.5" y2="358.5" stroke="#1a1a1a" stroke-width="2.75" stroke-linecap="butt"/>
<line x1="1816.5" y1="347" x2="1816.5" y2="358.5" stroke="#1a1a1a" stroke-width="2.75" stroke-linecap="butt"/>
<line x1="1869.5" y1="347" x2="1869.5" y2="358.5" stroke="#1a1a1a" stroke-width="2.75" stroke-linecap="butt"/>
<line x1="1763.5" y1="310" x2="1763.5" y2="329" stroke="#1a1a1a" stroke-width="1.55" stroke-linecap="butt"/>
<line x1="1754.5" y1="310" x2="1772.5" y2="310" stroke="#1a1a1a" stroke-width="1.55" stroke-linecap="butt"/>
<line x1="1754.5" y1="329" x2="1772.5" y2="329" stroke="#1a1a1a" stroke-width="1.55" stroke-linecap="butt"/>
<line x1="1816.5" y1="268" x2="1816.5" y2="313" stroke="#1a1a1a" stroke-width="1.55" stroke-linecap="butt"/>
<line x1="1807.5" y1="268" x2="1825.5" y2="268" stroke="#1a1a1a" stroke-width="1.55" stroke-linecap="butt"/>
<line x1="1807.5" y1="313" x2="1825.5" y2="313" stroke="#1a1a1a" stroke-width="1.55" stroke-linecap="butt"/>
<line x1="1869.5" y1="286" x2="1869.5" y2="322" stroke="#1a1a1a" stroke-width="1.55" stroke-linecap="butt"/>
<line x1="1860.5" y1="286" x2="1878.5" y2="286" stroke="#1a1a1a" stroke-width="1.55" stroke-linecap="butt"/>
<line x1="1860.5" y1="322" x2="1878.5" y2="322" stroke="#1a1a1a" stroke-width="1.55" stroke-linecap="butt"/>
<circle cx="1763" cy="266" r="4.65" fill="#1a1a1a"/>
<circle cx="1763" cy="294" r="4.65" fill="#1a1a1a"/>
<circle cx="1756" cy="307.5" r="4.65" fill="#1a1a1a"/>
<circle cx="1770" cy="309.5" r="4.65" fill="#1a1a1a"/>
<circle cx="1756" cy="331" r="4.65" fill="#1a1a1a"/>
<circle cx="1770" cy="331" r="4.65" fill="#1a1a1a"/>
<circle cx="1763" cy="341" r="4.65" fill="#1a1a1a"/>
<circle cx="1749.5" cy="346" r="4.65" fill="#1a1a1a"/>
<circle cx="1777" cy="346" r="4.65" fill="#1a1a1a"/>
<circle cx="1816" cy="134" r="4.65" fill="#1a1a1a"/>
<circle cx="1816" cy="246" r="4.65" fill="#1a1a1a"/>
<circle cx="1802.5" cy="290" r="4.65" fill="#1a1a1a"/>
<circle cx="1816" cy="297.5" r="4.65" fill="#1a1a1a"/>
<circle cx="1830" cy="295.5" r="4.65" fill="#1a1a1a"/>
<circle cx="1809.5" cy="334.5" r="4.65" fill="#1a1a1a"/>
<circle cx="1823" cy="333" r="4.65" fill="#1a1a1a"/>
<circle cx="1809.5" cy="343" r="4.65" fill="#1a1a1a"/>
<circle cx="1823" cy="342.5" r="4.65" fill="#1a1a1a"/>
<circle cx="1869" cy="190" r="4.65" fill="#1a1a1a"/>
<circle cx="1869" cy="276" r="4.65" fill="#1a1a1a"/>
<circle cx="1877" cy="311" r="4.65" fill="#1a1a1a"/>
<circle cx="1861" cy="317" r="4.65" fill="#1a1a1a"/>
<circle cx="1861" cy="327" r="4.65" fill="#1a1a1a"/>
<circle cx="1877" cy="325.5" r="4.65" fill="#1a1a1a"/>
<circle cx="1861" cy="344.5" r="4.65" fill="#1a1a1a"/>
<circle cx="1877" cy="343" r="4.65" fill="#1a1a1a"/>
<text transform="translate(1724.2 423.3) rotate(-45)" font-size="22.2" style="stroke-width:0.5px">Pre-inf</text>
<text transform="translate(1777.2 423.3) rotate(-45)" font-size="22.2" style="stroke-width:0.5px">Day -3</text>
<text transform="translate(1830.2 423.3) rotate(-45)" font-size="22.2" style="stroke-width:0.5px">Day 0</text>
<text transform="translate(1807.6 61.7) scale(1 1.05)" font-size="27.1" text-anchor="middle">CD86</text>
<text transform="translate(1679.7 216.2) rotate(-90) scale(1 1.04)" font-size="21.75" text-anchor="middle" style="stroke-width:0.5px">Fold change from CD9</text>
</g>
</svg></body></html>
